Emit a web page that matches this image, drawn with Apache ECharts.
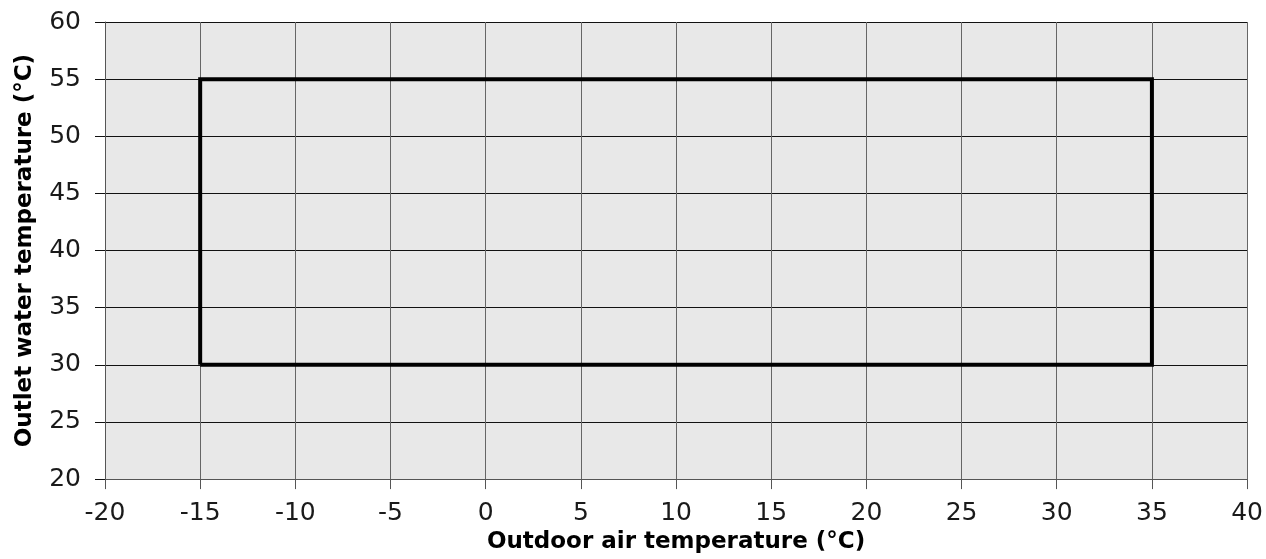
<!DOCTYPE html>
<html><head><meta charset="utf-8">
<script src="https://cdn.jsdelivr.net/npm/echarts@6/dist/echarts.min.js"></script>
<style>html,body{margin:0;padding:0;background:#fff}#c{width:1266px;height:559px}</style>
</head><body><div id="c"></div>
<script>
const envelopeX = [-15, -15, 35, 35, -15];
const envelopeY = [30, 55, 55, 30, 30];
const xName = 'Outdoor air temperature (°C)';
const yName = 'Outlet water temperature (°C)';
const FONT = 'DejaVu Sans';
const chart = echarts.init(document.getElementById('c'));
chart.setOption({
  animation: false,
  backgroundColor: '#fff',
  grid: {left: 105, right: 18, top: 22, bottom: 79, show: true, backgroundColor: '#e8e8e8', borderWidth: 0},
  xAxis: {
    type: 'value', min: -20, max: 40, interval: 5,
    name: xName, nameLocation: 'middle', nameGap: 49,
    nameTextStyle: {fontFamily: FONT, fontWeight: 'bold', fontSize: 23, color: '#000'},
    axisLine: {show: true, onZero: false, lineStyle: {color: '#555', width: 1}},
    axisTick: {show: true, length: 10, lineStyle: {color: '#555'}},
    axisLabel: {fontFamily: FONT, fontSize: 25, color: '#1a1a1a', margin: 22},
    splitLine: {show: true, lineStyle: {color: '#666', width: 1}}
  },
  yAxis: {
    type: 'value', min: 20, max: 60, interval: 5,
    name: yName, nameLocation: 'middle', nameGap: 68,
    nameTextStyle: {fontFamily: FONT, fontWeight: 'bold', fontSize: 23, color: '#000'},
    axisLine: {show: true, onZero: false, lineStyle: {color: '#555', width: 1}},
    axisTick: {show: true, length: 10, lineStyle: {color: '#111'}},
    axisLabel: {fontFamily: FONT, fontSize: 25, color: '#1a1a1a', margin: 24},
    splitLine: {show: true, lineStyle: {color: '#111', width: 1}}
  },
  series: [{
    type: 'line',
    data: envelopeX.map((x, i) => [x, envelopeY[i]]),
    showSymbol: false,
    lineStyle: {color: '#000', width: 4, join: 'miter'}
  }]
});
</script></body></html>
